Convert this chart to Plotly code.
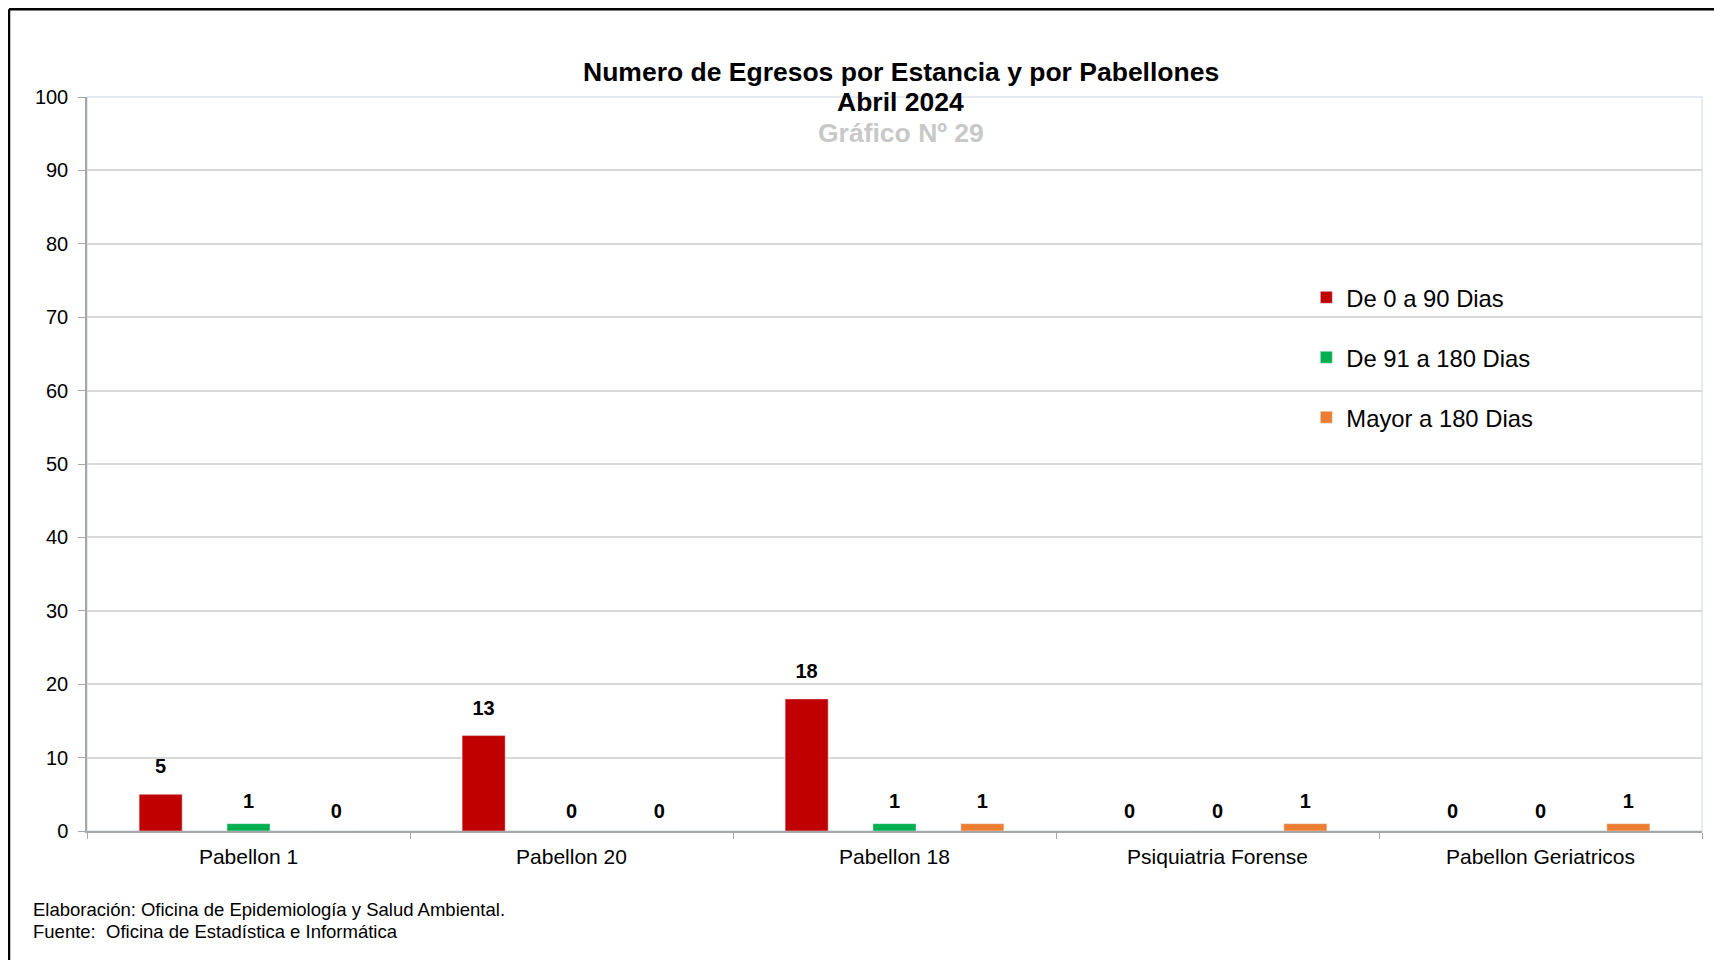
import plotly.graph_objects as go

categories = ["Pabellon 1", "Pabellon 20", "Pabellon 18", "Psiquiatria Forense", "Pabellon Geriatricos"]
series_names = ["De 0 a 90 Dias", "De 91 a 180 Dias", "Mayor a 180 Dias"]
de_0_90 = [5, 13, 18, 0, 0]
de_91_180 = [1, 0, 1, 0, 0]
mayor_180 = [0, 0, 1, 1, 1]
colors = ["#C00000", "#00B050", "#ED7D31"]
y_ticks = [0, 10, 20, 30, 40, 50, 60, 70, 80, 90, 100]

title_lines = ["Numero de Egresos por Estancia y por Pabellones", "Abril 2024", "Gráfico Nº 29"]
footer_lines = ["Elaboración: Oficina de Epidemiología y Salud Ambiental.",
                "Fuente:  Oficina de Estadística e Informática"]

FONT = "Liberation Sans, Arial, sans-serif"


def label_pad(v):
    # invisible marker size used as label offset (Excel-like placement)
    if v == 0:
        return 11
    if v == 1:
        return 15
    return 24


fig = go.Figure()
all_series = [de_0_90, de_91_180, mayor_180]
for i, (name, vals, col) in enumerate(zip(series_names, all_series, colors)):
    fig.add_trace(go.Bar(
        x=categories, y=vals, name=name, marker_color=col,
        offsetgroup=str(i), legendgroup=str(i), hoverinfo="skip",
    ))
for i, vals in enumerate(all_series):
    fig.add_trace(go.Scatter(
        x=categories, y=vals, mode="markers+text", text=[f"<b>{v}</b>" for v in vals],
        textposition="top center", offsetgroup=str(i), showlegend=False,
        marker=dict(size=[label_pad(v) for v in vals], color="rgba(0,0,0,0)", opacity=0,
                    line=dict(width=0, color="rgba(0,0,0,0)")),
        cliponaxis=False,
        textfont=dict(family=FONT, size=20, color="#000000"), hoverinfo="skip",
    ))

annotations = []
title_y = [1.0347, 0.993, 0.951]
title_col = ["#000000", "#000000", "#C8C8C8"]
for t, yy, c in zip(title_lines, title_y, title_col):
    annotations.append(dict(text=f"<b>{t}</b>", xref="paper", yref="paper", x=0.504, y=yy,
                            xanchor="center", yanchor="middle", showarrow=False,
                            font=dict(family=FONT, size=26.5, color=c)))
for t, yy in zip(footer_lines, [-0.1076, -0.1376]):
    annotations.append(dict(text=t, xref="paper", yref="paper", x=-0.0348, y=yy,
                            xanchor="left", yanchor="middle", showarrow=False,
                            font=dict(family=FONT, size=18.5, color="#000000")))

shapes = [
    # plot area border
    dict(type="rect", xref="paper", yref="paper", x0=0, x1=1, y0=0, y1=1,
         line=dict(color="#DCE4EE", width=1.5), layer="below"),
    # outer frame (left and top)
    dict(type="line", xref="paper", yref="paper", x0=-0.0483, x1=-0.0483, y0=1.1195, y1=-0.2,
         line=dict(color="#000000", width=2.5)),
    dict(type="line", xref="paper", yref="paper", x0=-0.0483, x1=1.02, y0=1.1195, y1=1.1195,
         line=dict(color="#000000", width=2.5)),
]

fig.update_layout(
    width=1714, height=952,
    margin=dict(l=79, r=20, t=89, b=129),
    paper_bgcolor="#FFFFFF", plot_bgcolor="#FFFFFF",
    barmode="group", bargap=0.184, bargroupgap=0.51,
    scattermode="group", scattergap=0.184,
    font=dict(family=FONT, color="#000000"),
    showlegend=True,
    legend=dict(x=0.755, y=0.757, xanchor="left", yanchor="top",
                font=dict(family=FONT, size=23.8, color="#000000"),
                bgcolor="rgba(0,0,0,0)", tracegroupgap=26, traceorder="grouped"),
    annotations=annotations, shapes=shapes,
    xaxis=dict(showline=True, linecolor="#A6A6A6", linewidth=1.5,
               ticks="outside", tickson="boundaries", ticklen=6, tickcolor="#A6A6A6",
               tickfont=dict(family=FONT, size=21, color="#000000"),
               ticklabelstandoff=6, showgrid=False),
    yaxis=dict(range=[0, 100], tickvals=y_ticks, showline=True, linecolor="#A6A6A6", linewidth=1.5,
               ticks="outside", ticklen=7, tickcolor="#A6A6A6",
               tickfont=dict(family=FONT, size=20, color="#000000"),
               ticklabelstandoff=6,
               showgrid=True, gridcolor="#D9D9D9", gridwidth=1.5, zeroline=False),
)

fig.write_html("out.html")
